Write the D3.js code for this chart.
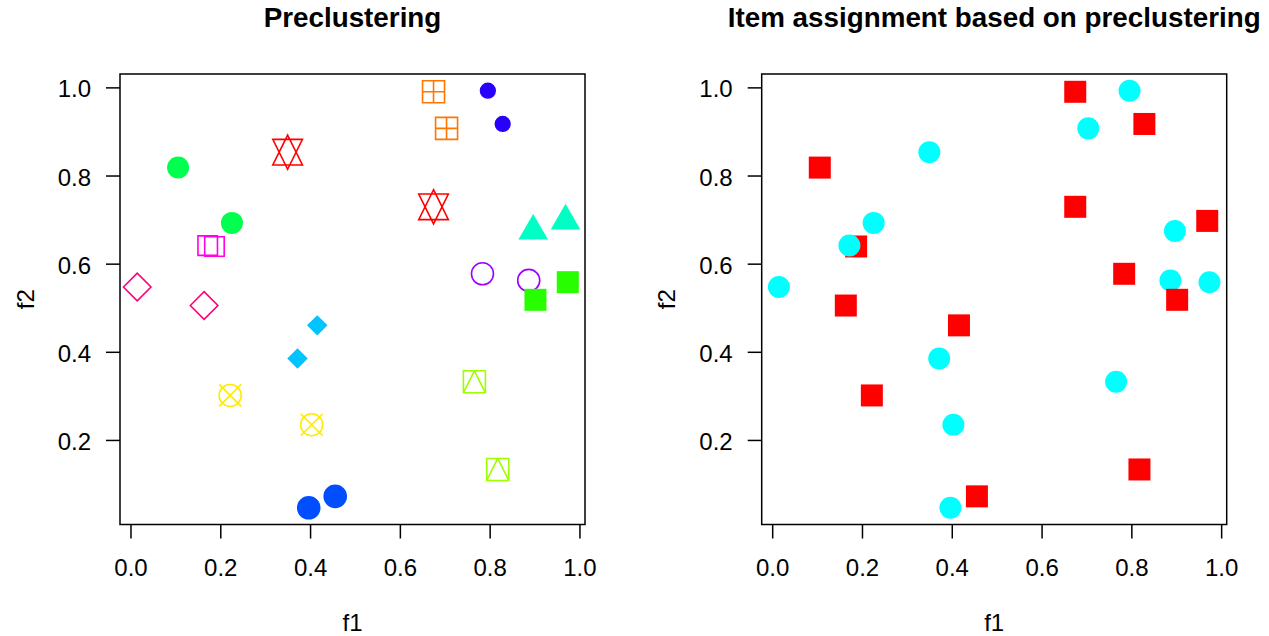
<!DOCTYPE html>
<html>
<head>
<meta charset="utf-8">
<script src="https://cdn.jsdelivr.net/npm/d3@7"></script>
<style>
  body { margin: 0; background: #fff; }
  text { font-family: "Liberation Sans", Arial, Helvetica, sans-serif; fill: #000; }
</style>
</head>
<body>
<script>
// points, in the order they get plotted
var f1 = [0.350, 0.675, 0.675, 0.704, 0.222, 0.4036, 0.766, 0.818,
          0.106, 0.226, 0.897, 0.969, 0.416, 0.372, 0.397, 0.456,
          0.796, 0.829, 0.784, 0.887, 0.902, 0.974, 0.187, 0.172,
          0.015, 0.164]
var f2 = [0.853, 0.729, 0.990, 0.907, 0.301, 0.2345, 0.332, 0.133,
          0.818, 0.6925, 0.674, 0.697, 0.460, 0.385, 0.046, 0.072,
          0.9925, 0.917, 0.577, 0.562, 0.518, 0.558, 0.639, 0.641,
          0.547, 0.505]
// precluster of each point (0..12)
var precluster = [0, 0, 1, 1, 2, 2, 3, 3,
                  5, 5, 6, 6, 7, 7, 8, 8,
                  9, 9, 10, 10, 4, 4, 11, 11,
                  12, 12]
// final assignment: 1 = red square, 2 = cyan circle
var assigned = [2, 1, 1, 2, 1, 2, 2, 1,
                1, 2, 2, 1, 1, 2, 2, 1,
                2, 1, 1, 2, 1, 2, 1, 2,
                2, 1]
var titles = ['Preclustering', 'Item assignment based on preclustering']
var xlab = 'f1', ylab = 'f2'

// plotting symbol for each precluster, like pch 11..23
var pchOf = [11, 12, 13, 14, 15, 16, 17, 18, 19, 20, 21, 22, 23]
var assignCol = { 1: '#ff0000', 2: '#00ffff' }
var assignPch = { 1: 15, 2: 16 }

var W = 1269, H = 636
var boxTop = 74, boxBot = 524.5, boxW = 465
var boxLeft = [120, 761.7]
var S = 11 // symbol base size in px

function rainbow(i, n) { return d3.hsl(i * 360 / n, 1, 0.5).formatHex() }

var pts = f1.map(function(d, i) {
  return { x: d, y: f2[i], c: precluster[i], a: assigned[i] }
})

// R style axis range: data range stretched by 4%
function pad(ext) { var e = (ext[1] - ext[0]) * 0.04; return [ext[0] - e, ext[1] + e] }
var xdom = pad(d3.extent(f1)), ydom = pad(d3.extent(f2))

function shape(pch) {
  var p = d3.path(), r, xc, yc, h
  switch (pch) {
    case 11:
      r = 1.5551 * S; yc = 0.5 * (0.7776 * S + r); xc = 1.3468 * S
      p.moveTo(0, r); p.lineTo(xc, -yc); p.lineTo(-xc, -yc); p.closePath()
      p.moveTo(0, -r); p.lineTo(xc, yc); p.lineTo(-xc, yc); p.closePath()
      break
    case 12:
      p.rect(-S, -S, 2 * S, 2 * S)
      p.moveTo(-S, 0); p.lineTo(S, 0); p.moveTo(0, -S); p.lineTo(0, S)
      break
    case 13:
      p.moveTo(S, 0); p.arc(0, 0, S, 0, 2 * Math.PI)
      p.moveTo(-S, -S); p.lineTo(S, S); p.moveTo(-S, S); p.lineTo(S, -S)
      break
    case 14:
      p.rect(-S, -S, 2 * S, 2 * S)
      p.moveTo(0, -S); p.lineTo(S, S); p.moveTo(0, -S); p.lineTo(-S, S)
      break
    case 15:
      p.rect(-S, -S, 2 * S, 2 * S)
      break
    case 16: case 19: case 21:
      p.moveTo(S, 0); p.arc(0, 0, S, 0, 2 * Math.PI)
      break
    case 20:
      h = S * 2 / 3
      p.moveTo(h, 0); p.arc(0, 0, h, 0, 2 * Math.PI)
      break
    case 17:
      r = 1.5551 * S; yc = 0.7776 * S; xc = 1.3468 * S
      p.moveTo(0, -r); p.lineTo(xc, yc); p.lineTo(-xc, yc); p.closePath()
      break
    case 18:
      h = 0.93 * S
      p.moveTo(-h, 0); p.lineTo(0, -h); p.lineTo(h, 0); p.lineTo(0, h); p.closePath()
      break
    case 22:
      h = 0.8862 * S
      p.rect(-h, -h, 2 * h, 2 * h)
      break
    case 23:
      h = 1.2533 * S
      p.moveTo(-h, 0); p.lineTo(0, -h); p.lineTo(h, 0); p.lineTo(0, h); p.closePath()
      break
  }
  return p.toString()
}

function styleOf(pch, col) {
  if (pch == 15 || pch == 16 || pch == 17 || pch == 18) return { fill: col, stroke: 'none' }
  if (pch == 19 || pch == 20) return { fill: col, stroke: col }
  return { fill: 'none', stroke: col }
}

var svg = d3.select('body').append('svg')
  .attr('width', W).attr('height', H)
  .style('display', 'block')

function panel(k) {
  var x0 = boxLeft[k]
  var x = d3.scaleLinear().domain(xdom).range([x0, x0 + boxW])
  var y = d3.scaleLinear().domain(ydom).range([boxBot, boxTop])
  var g = svg.append('g')

  // points
  g.selectAll('path.pt').data(pts).enter().append('path')
    .attr('class', 'pt')
    .attr('transform', function(d) { return 'translate(' + x(d.x) + ',' + y(d.y) + ')' })
    .attr('d', function(d) { return shape(k == 0 ? pchOf[d.c] : assignPch[d.a]) })
    .each(function(d) {
      var pch = k == 0 ? pchOf[d.c] : assignPch[d.a]
      var col = k == 0 ? rainbow(d.c, 13) : assignCol[d.a]
      var st = styleOf(pch, col)
      d3.select(this).attr('fill', st.fill).attr('stroke', st.stroke).attr('stroke-width', 1.6)
    })

  // axes
  var fmt = d3.format('.1f')
  var ax = g.append('g').attr('transform', 'translate(0,' + boxBot + ')')
    .call(d3.axisBottom(x).ticks(5).tickFormat(fmt).tickSize(14).tickPadding(20.5))
  var ay = g.append('g').attr('transform', 'translate(' + x0 + ',0)')
    .call(d3.axisLeft(y).ticks(5).tickFormat(fmt).tickSize(14).tickPadding(15))
  ;[ax, ay].forEach(function(a) {
    a.select('.domain').remove()
    a.selectAll('line').attr('stroke', '#000').attr('stroke-width', 1.5)
    a.selectAll('text').style('font-size', '24px')
      .style('font-family', '"Liberation Sans", Arial, sans-serif').attr('fill', '#000')
  })
  ay.selectAll('text').attr('dy', '0.4em')

  // box
  g.append('rect').attr('x', x0).attr('y', boxTop)
    .attr('width', boxW).attr('height', boxBot - boxTop)
    .attr('fill', 'none').attr('stroke', '#000').attr('stroke-width', 1.5)

  // titles and labels
  var cx = x0 + boxW / 2
  g.append('text').attr('x', cx).attr('y', 26.7).attr('text-anchor', 'middle')
    .style('font-size', '27.8px').style('font-weight', 'bold').text(titles[k])
  g.append('text').attr('x', cx).attr('y', 630.5).attr('text-anchor', 'middle')
    .style('font-size', '24px').text(xlab)
  g.append('text').attr('transform', 'translate(' + (x0 - 86.4) + ',' + ((boxTop + boxBot) / 2) + ') rotate(-90)')
    .attr('text-anchor', 'middle').style('font-size', '24px').text(ylab)
}

panel(0)
panel(1)
</script>
</body>
</html>
